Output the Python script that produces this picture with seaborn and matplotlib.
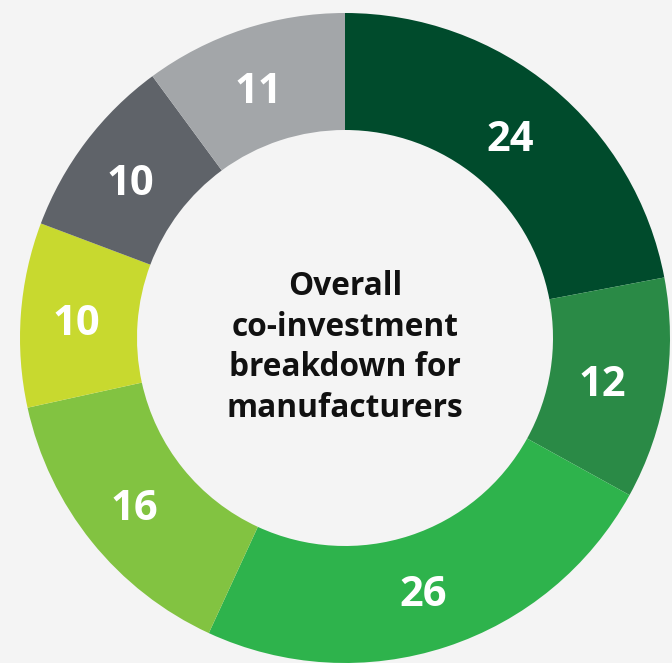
import matplotlib
matplotlib.use("Agg")
import matplotlib.pyplot as plt
import matplotlib.transforms as mtransforms
import seaborn as sns

# Co-investment shares by segment, clockwise from the top
segments = ["A", "B", "C", "D", "E", "F", "G"]
values = [24, 12, 26, 16, 10, 10, 11]
colors = ["#004b2c", "#2a8a46", "#2eb34c", "#82c341", "#c8d92f", "#5f6369", "#a3a6a9"]
center_title = "Overall\nco-investment\nbreakdown for\nmanufacturers"

sns.set_theme(style="white")
plt.rcParams["font.family"] = ["Open Sans", "DejaVu Sans"]

bg = "#f4f4f4"
fig = plt.figure(figsize=(6.72, 6.63), dpi=100, facecolor=bg)
ax = fig.add_axes([0, 0, 1, 1])
ax.set_facecolor(bg)

total = sum(values)
wedges, _, autotexts = ax.pie(
    values,
    colors=colors,
    startangle=90,
    counterclock=False,
    radius=1.0,
    wedgeprops=dict(width=0.36, linewidth=0),
    autopct=lambda p: f"{round(p * total / 100):d}",
    pctdistance=0.815,
    textprops=dict(color="white", fontsize=30, fontweight="bold"),
)

# Nudge the value labels slightly down and left within their wedges
nudge = mtransforms.ScaledTranslation(-4 / 100, -6 / 100, fig.dpi_scale_trans)
for t in autotexts:
    t.set_transform(ax.transData + nudge)

ax.text(0, -0.029, center_title, ha="center", va="center",
        fontsize=22.8, fontweight="bold", color="#111111", linespacing=1.31)

# Map one data unit to 325 px, ring centred at (345, 338) px
ax.set_xlim(-345 / 325, (672 - 345) / 325)
ax.set_ylim(-(663 - 338) / 325, 338 / 325)
ax.set_aspect("auto")
ax.axis("off")

fig.savefig("out.png", dpi=100, facecolor=bg)
